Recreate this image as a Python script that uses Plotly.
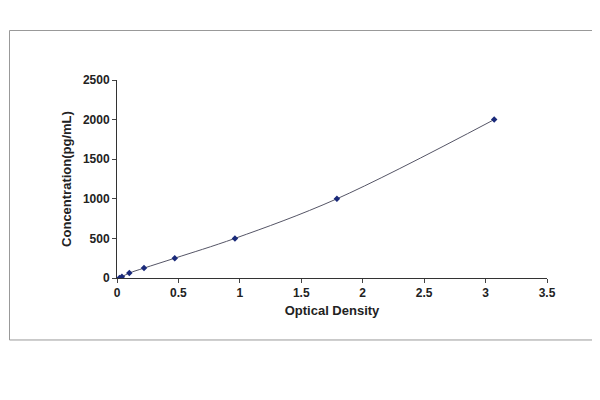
import plotly.graph_objects as go

od = [0.02, 0.04, 0.10, 0.22, 0.47, 0.96, 1.79, 3.07]
conc = [0, 15.6, 62.5, 125, 250, 500, 1000, 2000]

fig = go.Figure(go.Scatter(x=od, y=conc, mode="lines+markers", line=dict(color="#555566", width=1, shape="spline"),
    marker=dict(symbol="diamond", size=5, color="#1a2a7a")))
fig.update_layout(width=600, height=400, paper_bgcolor="white", plot_bgcolor="white", showlegend=False,
    margin=dict(l=109, r=61, t=72, b=130),
    font=dict(family="Liberation Sans, Arial", size=11, color="#222"),
    shapes=[dict(type="rect", xref="paper", yref="paper", x0=-0.25, x1=1.115, y0=-0.313, y1=1.25, line=dict(color="#999", width=1))])
fig.update_xaxes(range=[0, 3.5], dtick=0.5, showline=True, linecolor="#333", ticks="outside", ticklen=4, showgrid=False,
    zeroline=False, title=dict(text="<b>Optical Density</b>", standoff=6), tickfont=dict(size=12, weight="bold"))
fig.update_yaxes(range=[0, 2500], dtick=500, showline=True, linecolor="#333", ticks="outside", ticklen=4, showgrid=False,
    zeroline=False, title=dict(text="<b>Concentration(pg/mL)</b>", standoff=8), tickfont=dict(size=12, weight="bold"))
fig.write_html("out.html")
